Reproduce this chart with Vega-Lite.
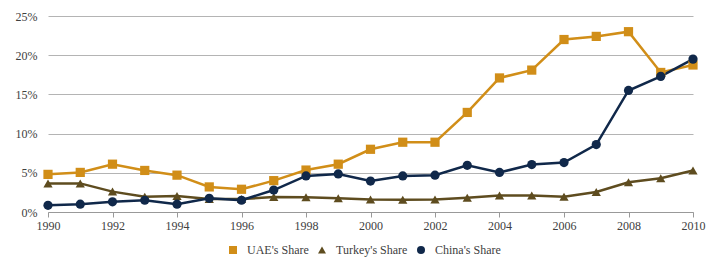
{
  "$schema": "https://vega.github.io/schema/vega-lite/v6.json",
  "width": 645,
  "height": 196,
  "autosize": {"type": "none"},
  "padding": {"left": 48, "top": 16, "right": 20, "bottom": 47},
  "config": {
    "view": {"stroke": null},
    "font": "Liberation Serif",
    "axis": {"labelFont": "Liberation Serif", "labelFontSize": 12, "labelColor": "#404040", "title": null},
    "legend": {"labelFont": "Liberation Serif"}
  },
  "data": {
    "values": [
      {"year": 1990, "series": "UAE's Share", "value": 4.8},
      {"year": 1991, "series": "UAE's Share", "value": 5.05},
      {"year": 1992, "series": "UAE's Share", "value": 6.1},
      {"year": 1993, "series": "UAE's Share", "value": 5.3},
      {"year": 1994, "series": "UAE's Share", "value": 4.7},
      {"year": 1995, "series": "UAE's Share", "value": 3.2},
      {"year": 1996, "series": "UAE's Share", "value": 2.9},
      {"year": 1997, "series": "UAE's Share", "value": 4.0},
      {"year": 1998, "series": "UAE's Share", "value": 5.35},
      {"year": 1999, "series": "UAE's Share", "value": 6.1},
      {"year": 2000, "series": "UAE's Share", "value": 8.0},
      {"year": 2001, "series": "UAE's Share", "value": 8.9},
      {"year": 2002, "series": "UAE's Share", "value": 8.9},
      {"year": 2003, "series": "UAE's Share", "value": 12.7},
      {"year": 2004, "series": "UAE's Share", "value": 17.1},
      {"year": 2005, "series": "UAE's Share", "value": 18.1},
      {"year": 2006, "series": "UAE's Share", "value": 22.0},
      {"year": 2007, "series": "UAE's Share", "value": 22.4},
      {"year": 2008, "series": "UAE's Share", "value": 23.0},
      {"year": 2009, "series": "UAE's Share", "value": 17.8},
      {"year": 2010, "series": "UAE's Share", "value": 18.75},
      {"year": 1990, "series": "Turkey's Share", "value": 3.65},
      {"year": 1991, "series": "Turkey's Share", "value": 3.65},
      {"year": 1992, "series": "Turkey's Share", "value": 2.6},
      {"year": 1993, "series": "Turkey's Share", "value": 1.95},
      {"year": 1994, "series": "Turkey's Share", "value": 2.05},
      {"year": 1995, "series": "Turkey's Share", "value": 1.65},
      {"year": 1996, "series": "Turkey's Share", "value": 1.65},
      {"year": 1997, "series": "Turkey's Share", "value": 1.9},
      {"year": 1998, "series": "Turkey's Share", "value": 1.87},
      {"year": 1999, "series": "Turkey's Share", "value": 1.75},
      {"year": 2000, "series": "Turkey's Share", "value": 1.6},
      {"year": 2001, "series": "Turkey's Share", "value": 1.57},
      {"year": 2002, "series": "Turkey's Share", "value": 1.6},
      {"year": 2003, "series": "Turkey's Share", "value": 1.83},
      {"year": 2004, "series": "Turkey's Share", "value": 2.1},
      {"year": 2005, "series": "Turkey's Share", "value": 2.1},
      {"year": 2006, "series": "Turkey's Share", "value": 1.95},
      {"year": 2007, "series": "Turkey's Share", "value": 2.55},
      {"year": 2008, "series": "Turkey's Share", "value": 3.8},
      {"year": 2009, "series": "Turkey's Share", "value": 4.3},
      {"year": 2010, "series": "Turkey's Share", "value": 5.3},
      {"year": 1990, "series": "China's Share", "value": 0.85},
      {"year": 1991, "series": "China's Share", "value": 1.0},
      {"year": 1992, "series": "China's Share", "value": 1.3},
      {"year": 1993, "series": "China's Share", "value": 1.5},
      {"year": 1994, "series": "China's Share", "value": 1.0},
      {"year": 1995, "series": "China's Share", "value": 1.75},
      {"year": 1996, "series": "China's Share", "value": 1.5},
      {"year": 1997, "series": "China's Share", "value": 2.8},
      {"year": 1998, "series": "China's Share", "value": 4.6},
      {"year": 1999, "series": "China's Share", "value": 4.85},
      {"year": 2000, "series": "China's Share", "value": 3.95},
      {"year": 2001, "series": "China's Share", "value": 4.6},
      {"year": 2002, "series": "China's Share", "value": 4.7},
      {"year": 2003, "series": "China's Share", "value": 5.95},
      {"year": 2004, "series": "China's Share", "value": 5.05},
      {"year": 2005, "series": "China's Share", "value": 6.05},
      {"year": 2006, "series": "China's Share", "value": 6.3},
      {"year": 2007, "series": "China's Share", "value": 8.6},
      {"year": 2008, "series": "China's Share", "value": 15.5},
      {"year": 2009, "series": "China's Share", "value": 17.3},
      {"year": 2010, "series": "China's Share", "value": 19.5}
    ]
  },
  "encoding": {
    "x": {
      "field": "year", "type": "quantitative",
      "scale": {"domain": [1990, 2010], "nice": false, "zero": false},
      "axis": {
        "values": [1990, 1992, 1994, 1996, 1998, 2000, 2002, 2004, 2006, 2008, 2010],
        "format": "d", "grid": false, "domainColor": "#999999", "tickColor": "#999999",
        "tickSize": 5, "labelPadding": 3, "labelFlush": false
      }
    },
    "y": {
      "field": "value", "type": "quantitative",
      "scale": {"domain": [0, 25], "nice": false},
      "axis": {
        "values": [0, 5, 10, 15, 20, 25],
        "labelExpr": "datum.value + '%'",
        "domain": false, "ticks": false, "gridColor": "#b4b4b4", "gridWidth": 1,
        "labelPadding": 11
      }
    }
  },
  "layer": [
    {
      "mark": {"type": "line", "strokeWidth": 2.5},
      "encoding": {
        "color": {
          "field": "series", "type": "nominal",
          "scale": {"domain": ["UAE's Share", "Turkey's Share", "China's Share"], "range": ["#D18E18", "#5E4C1F", "#10284A"]}
        }
      }
    },
    {
      "mark": {"type": "point", "filled": true, "opacity": 1, "size": 85},
      "encoding": {
        "shape": {
          "field": "series", "type": "nominal",
          "scale": {"domain": ["UAE's Share", "Turkey's Share", "China's Share"], "range": ["square", "triangle-up", "circle"]}
        },
        "color": {
          "field": "series", "type": "nominal",
          "legend": {
            "title": null, "orient": "bottom", "direction": "horizontal", "offset": -166, "padding": 179,
            "labelFont": "Liberation Serif", "labelFontSize": 12, "labelColor": "#404040",
            "symbolSize": 64, "symbolStrokeWidth": 0, "labelOffset": 8, "columnPadding": 7
          }
        }
      }
    }
  ]
}
